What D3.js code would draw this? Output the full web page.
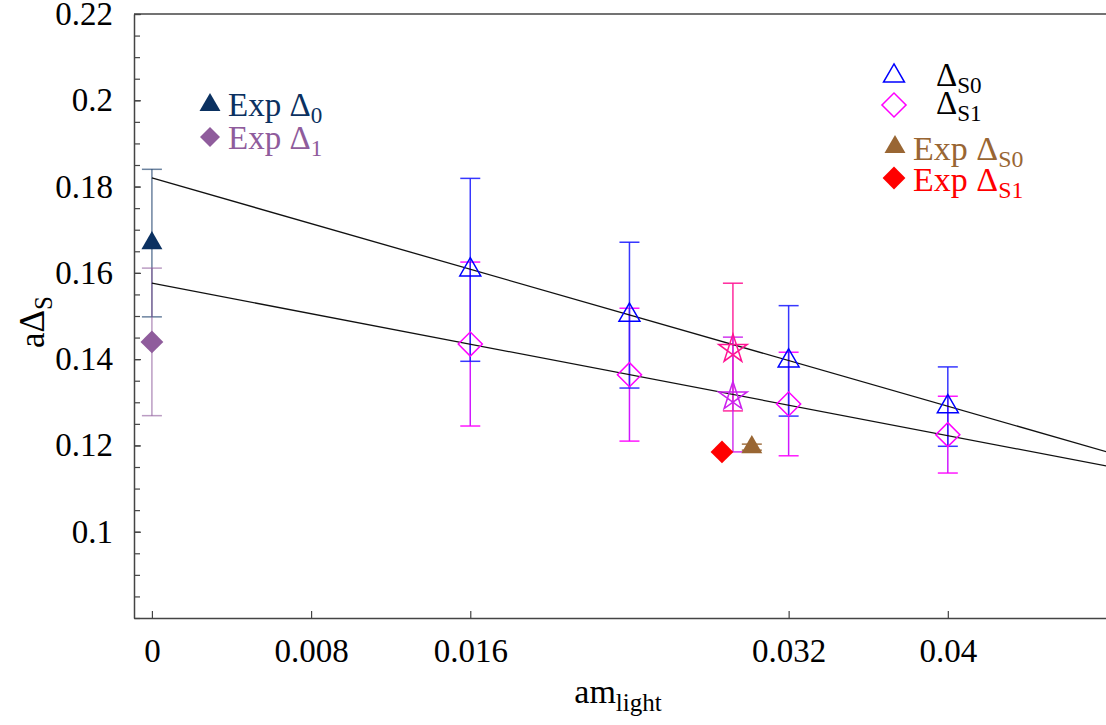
<!DOCTYPE html>
<html>
<head>
<meta charset="utf-8">
<script src="https://cdn.jsdelivr.net/npm/d3@7"></script>
<style>
  body { margin: 0; background: #fff; }
  svg, svg text { font-family: "Liberation Serif", "Times New Roman", serif; }
  svg { display: block; }
</style>
</head>
<body>
<svg width="1106" height="725"></svg>
<script>
// lattice masses with measured splittings
const massS = [0.016, 0.024, 0.032, 0.04];
const deltaS0 = [0.1607, 0.1502, 0.1396, 0.1290];
const errS0 = [0.0212, 0.0169, 0.0128, 0.0092];
const deltaS1 = [0.1435, 0.1364, 0.1296, 0.1225];
const errS1 = [0.0190, 0.0154, 0.0120, 0.0089];

// the two star points near the strange mass
const starMass = [0.0292, 0.0292];
const starVals = [0.1428, 0.1318];
const starErr = [0.0148, 0.0133];
const starColors = ["#ff1493", "#cc22ee"];

// experimental values at chiral limit
const expMass = [0, 0];
const expVals = [0.1669, 0.1440];
const expErr = [0.0171, 0.0171];
const expColors = ["#0b3161", "#8f5c9c"];

// experimental strange values
const expSMass = [0.03015, 0.02865];
const expSVals = [0.1196, 0.1185];
const expSErr = [0.0007, 0];
const expSColors = ["#996633", "#ff0000"];

// linear fits (end points)
const fitMass = [0, 0.048];
const fitS0 = [0.1820, 0.1185];
const fitS1 = [0.1576, 0.1152];

const xTicks = [0, 0.008, 0.016, 0.032, 0.04];
const xTickLabels = ["0", "0.008", "0.016", "0.032", "0.04"];
const yTicks = [0.1, 0.12, 0.14, 0.16, 0.18, 0.2, 0.22];
const yTickLabels = ["0.1", "0.12", "0.14", "0.16", "0.18", "0.2", "0.22"];

const svg = d3.select("svg");
const width = +svg.attr("width");
const height = +svg.attr("height");

const plotLeft = 134, plotRight = 1107, plotTop = 14, plotBottom = 618;
const serif = '"Liberation Serif", "Times New Roman", serif';

const x = d3.scaleLinear().domain([-0.0009, 0.048]).range([plotLeft, plotRight]);
const y = d3.scaleLinear().domain([0.08, 0.22]).range([plotBottom, plotTop]);

const axisColor = "#444";

// minor y ticks
const minor = d3.range(0.08, 0.2201, 0.005);
svg.append("g")
    .attr("transform", `translate(${plotLeft},0)`)
    .call(d3.axisLeft(y).tickValues(minor).tickSize(-6).tickSizeOuter(0).tickFormat(""))
    .call(g => g.select(".domain").remove())
    .selectAll("line").attr("stroke", axisColor).attr("stroke-width", 1.2);

const yAxis = svg.append("g")
    .attr("transform", `translate(${plotLeft},0)`)
    .call(d3.axisLeft(y).tickValues(yTicks).tickSize(-7).tickSizeOuter(0).tickPadding(21)
        .tickFormat((d, i) => yTickLabels[i]))
    .attr("font-family", null).attr("font-size", null);
yAxis.select(".domain").attr("stroke", axisColor).attr("stroke-width", 1.5);
yAxis.selectAll("line").attr("stroke", axisColor).attr("stroke-width", 1.2);
yAxis.selectAll("text").style("font-size", "33px").style("font-family", serif).attr("fill", "#000");

const xAxis = svg.append("g")
    .attr("transform", `translate(0,${plotBottom})`)
    .call(d3.axisBottom(x).tickValues(xTicks).tickSize(-7).tickSizeOuter(0).tickPadding(21)
        .tickFormat((d, i) => xTickLabels[i]))
    .attr("font-family", null).attr("font-size", null);
xAxis.select(".domain").attr("stroke", axisColor).attr("stroke-width", 1.5);
xAxis.selectAll("line").attr("stroke", axisColor).attr("stroke-width", 1.2);
xAxis.selectAll("text").style("font-size", "33px").style("font-family", serif).attr("fill", "#000");

// top frame line
svg.append("line")
    .attr("x1", plotLeft).attr("x2", plotRight)
    .attr("y1", plotTop).attr("y2", plotTop)
    .attr("stroke", axisColor).attr("stroke-width", 1.5);

// axis titles
const xt = svg.append("text")
    .attr("x", 618).attr("y", 703)
    .attr("text-anchor", "middle")
    .style("font-size", "34px");
xt.append("tspan").text("am");
xt.append("tspan").style("font-size", "25px").attr("dy", 8).text("light");

const yt = svg.append("text")
    .attr("transform", "translate(44,322) rotate(-90)")
    .attr("text-anchor", "middle")
    .style("font-size", "35px");
yt.append("tspan").text("aΔ");
yt.append("tspan").style("font-size", "25px").attr("dy", 8).text("S");

// shapes
const triPath = d3.symbol().type(d3.symbolTriangle).size(190)();
const diamondPath = d3.symbol().type(d3.symbolSquare).size(290)();
function starPath(r) {
    const pts = d3.range(5).map(i => {
        const a = -Math.PI / 2 + i * 2 * Math.PI / 5;
        return [r * Math.cos(a), r * Math.sin(a)];
    });
    const order = [0, 2, 4, 1, 3];
    return "M" + order.map(i => pts[i].join(",")).join("L") + "Z";
}

function errorBar(g, mx, my, e, color, opacity, capColor) {
    const cx = x(mx);
    g.append("line")
        .attr("x1", cx).attr("x2", cx)
        .attr("y1", y(my + e)).attr("y2", y(my - e))
        .attr("stroke", color).attr("stroke-width", 1.5).attr("opacity", opacity);
    [my + e, my - e].forEach(v => {
        g.append("line")
            .attr("x1", cx - 10).attr("x2", cx + 10)
            .attr("y1", y(v)).attr("y2", y(v))
            .attr("stroke", capColor || color).attr("stroke-width", 1.5).attr("opacity", opacity);
    });
}

const plot = svg.append("g");

// error bars
expMass.forEach((m, i) => errorBar(plot, m, expVals[i], expErr[i], expColors[i], 0.6));
massS.forEach((m, i) => errorBar(plot, m, deltaS1[i], errS1[i], "#cc00ff", 0.9, "#ff00ff"));
massS.forEach((m, i) => errorBar(plot, m, deltaS0[i], errS0[i], "#2222ff", 0.9));
starMass.forEach((m, i) => errorBar(plot, m, starVals[i], starErr[i], starColors[i], 0.9));
expSMass.forEach((m, i) => { if (expSErr[i] > 0) errorBar(plot, m, expSVals[i], expSErr[i], expSColors[i], 0.9); });

// fit lines
const line = d3.line().x(d => x(d[0])).y(d => y(d[1]));
[fitS0, fitS1].forEach(f => {
    plot.append("path")
        .datum(fitMass.map((m, i) => [m, f[i]]))
        .attr("d", line)
        .attr("fill", "none")
        .attr("stroke", "#111")
        .attr("stroke-width", 1.3);
});

// markers
plot.selectAll(".s0").data(massS).enter().append("path")
    .attr("d", triPath)
    .attr("transform", (d, i) => `translate(${x(d)},${y(deltaS0[i])})`)
    .attr("fill", "none").attr("stroke", "#0000ff").attr("stroke-width", 1.5);

plot.selectAll(".s1").data(massS).enter().append("path")
    .attr("d", diamondPath)
    .attr("transform", (d, i) => `translate(${x(d)},${y(deltaS1[i])}) rotate(45)`)
    .attr("fill", "none").attr("stroke", "#ff00ff").attr("stroke-width", 1.5);

plot.selectAll(".star").data(starMass).enter().append("path")
    .attr("d", starPath(15))
    .attr("transform", (d, i) => `translate(${x(d)},${y(starVals[i]) + 2})`)
    .attr("fill", "none").attr("stroke", (d, i) => starColors[i]).attr("stroke-width", 1.5);

plot.append("path")
    .attr("d", triPath)
    .attr("transform", `translate(${x(expMass[0])},${y(expVals[0])})`)
    .attr("fill", expColors[0]);
plot.append("path")
    .attr("d", d3.symbol().type(d3.symbolSquare).size(260)())
    .attr("transform", `translate(${x(expMass[1])},${y(expVals[1])}) rotate(45)`)
    .attr("fill", expColors[1]);

plot.append("path")
    .attr("d", triPath)
    .attr("transform", `translate(${x(expSMass[0])},${y(expSVals[0])})`)
    .attr("fill", expSColors[0]);
plot.append("path")
    .attr("d", d3.symbol().type(d3.symbolSquare).size(260)())
    .attr("transform", `translate(${x(expSMass[1])},${y(expSVals[1])}) rotate(45)`)
    .attr("fill", expSColors[1]);

// legends
function legendText(g, tx, ty, main, sub, color, size) {
    const t = g.append("text").attr("x", tx).attr("y", ty)
        .style("font-size", size + "px").attr("fill", color);
    t.append("tspan").text(main);
    t.append("tspan").style("font-size", (size * 0.7) + "px").attr("dy", size * 0.2).text(sub);
}

const leg = svg.append("g");
leg.append("path").attr("d", triPath).attr("transform", "translate(210,105)").attr("fill", expColors[0]);
legendText(leg, 228, 116, "Exp Δ", "0", expColors[0], 33);
leg.append("path").attr("d", d3.symbol().type(d3.symbolSquare).size(200)())
    .attr("transform", "translate(210,137) rotate(45)").attr("fill", expColors[1]);
legendText(leg, 228, 149, "Exp Δ", "1", expColors[1], 33);

leg.append("path").attr("d", triPath).attr("transform", "translate(894,76)")
    .attr("fill", "none").attr("stroke", "#0000ff").attr("stroke-width", 1.5);
legendText(leg, 936, 86, "Δ", "S0", "#000", 33);
leg.append("path").attr("d", diamondPath).attr("transform", "translate(894,105) rotate(45)")
    .attr("fill", "none").attr("stroke", "#ff00ff").attr("stroke-width", 1.5);
legendText(leg, 936, 114, "Δ", "S1", "#000", 33);

leg.append("path").attr("d", triPath).attr("transform", "translate(895,147)").attr("fill", expSColors[0]);
legendText(leg, 913, 160, "Exp Δ", "S0", expSColors[0], 34);
leg.append("path").attr("d", d3.symbol().type(d3.symbolSquare).size(260)())
    .attr("transform", "translate(894,178) rotate(45)").attr("fill", expSColors[1]);
legendText(leg, 913, 191, "Exp Δ", "S1", expSColors[1], 34);
</script>
</body>
</html>
